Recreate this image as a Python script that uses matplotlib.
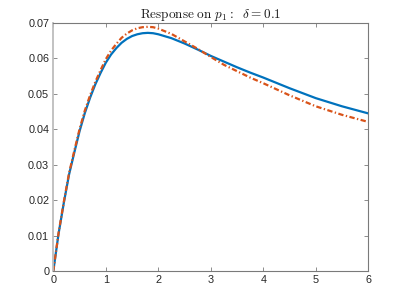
import matplotlib
matplotlib.use("Agg")
import matplotlib.pyplot as plt

# time axis
t = [0, 0.1, 0.2, 0.3, 0.4, 0.5, 0.6, 0.7, 0.8, 0.9, 1.0, 1.1, 1.2, 1.3, 1.4,
     1.5, 1.6, 1.7, 1.8, 1.9, 2.0, 2.25, 2.5, 2.75, 3.0, 3.25, 3.5, 3.75, 4.0,
     4.5, 5.0, 5.5, 6.0]

# response, solid blue
resp_a = [0, 0.0105, 0.0192, 0.0272, 0.0334, 0.0394, 0.0445, 0.0488, 0.0526,
          0.0558, 0.0587, 0.0610, 0.0628, 0.0643, 0.0654, 0.0662, 0.0667,
          0.0670, 0.0671, 0.0670, 0.0667, 0.0656, 0.0641, 0.0624, 0.0606,
          0.0590, 0.0574, 0.0559, 0.0545, 0.0515, 0.0487, 0.0464, 0.0444]

# response, dash-dot orange
resp_b = [0, 0.0107, 0.0195, 0.0276, 0.0339, 0.0400, 0.0452, 0.0495, 0.0533,
          0.0566, 0.0597, 0.0621, 0.0640, 0.0657, 0.0669, 0.0678, 0.0684,
          0.0687, 0.0688, 0.0687, 0.0683, 0.0668, 0.0647, 0.0626, 0.0603,
          0.0581, 0.0563, 0.0545, 0.0529, 0.0495, 0.0464, 0.0440, 0.0420]

xticks = [0, 1, 2, 3, 4, 5, 6]
yticks = [0, 0.01, 0.02, 0.03, 0.04, 0.05, 0.06, 0.07]

plt.rcParams['mathtext.fontset'] = 'cm'
plt.rcParams['font.family'] = ['Liberation Sans', 'DejaVu Sans']

fig = plt.figure(figsize=(4.07, 3.05), dpi=100)
ax = fig.add_axes([0.131, 0.1115, 0.774, 0.8145])

ax.plot(t, resp_a, color='#0072BD', lw=1.6, solid_capstyle='butt')
ax.plot(t, resp_b, color='#D95319', lw=1.6, linestyle=(0, (2.4, 1.1, 0.6, 1.1)))

ax.set_xlim(0, 6)
ax.set_ylim(0, 0.07)
ax.set_xticks(xticks)
ax.set_xticklabels([str(v) for v in xticks])
ax.set_yticks(yticks)
ax.set_yticklabels(['0'] + ['%.2f' % v for v in yticks[1:]])

for s in ax.spines.values():
    s.set_color('#7a7a7a')
    s.set_linewidth(0.8)
ax.spines['left'].set_color('#bdbdbd')
ax.spines['left'].set_linewidth(1.3)

ax.tick_params(direction='in', top=True, right=True, length=3, width=0.6,
               colors='#7a7a7a', labelcolor='#262626', labelsize=7.8, pad=3)

ax.set_title(r'$\mathrm{Response\ on}\ p_1{:}\ \ \delta = 0.1$',
             fontsize=9.5, color='#1a1a1a', pad=3)

fig.savefig('out.png', dpi=100)
